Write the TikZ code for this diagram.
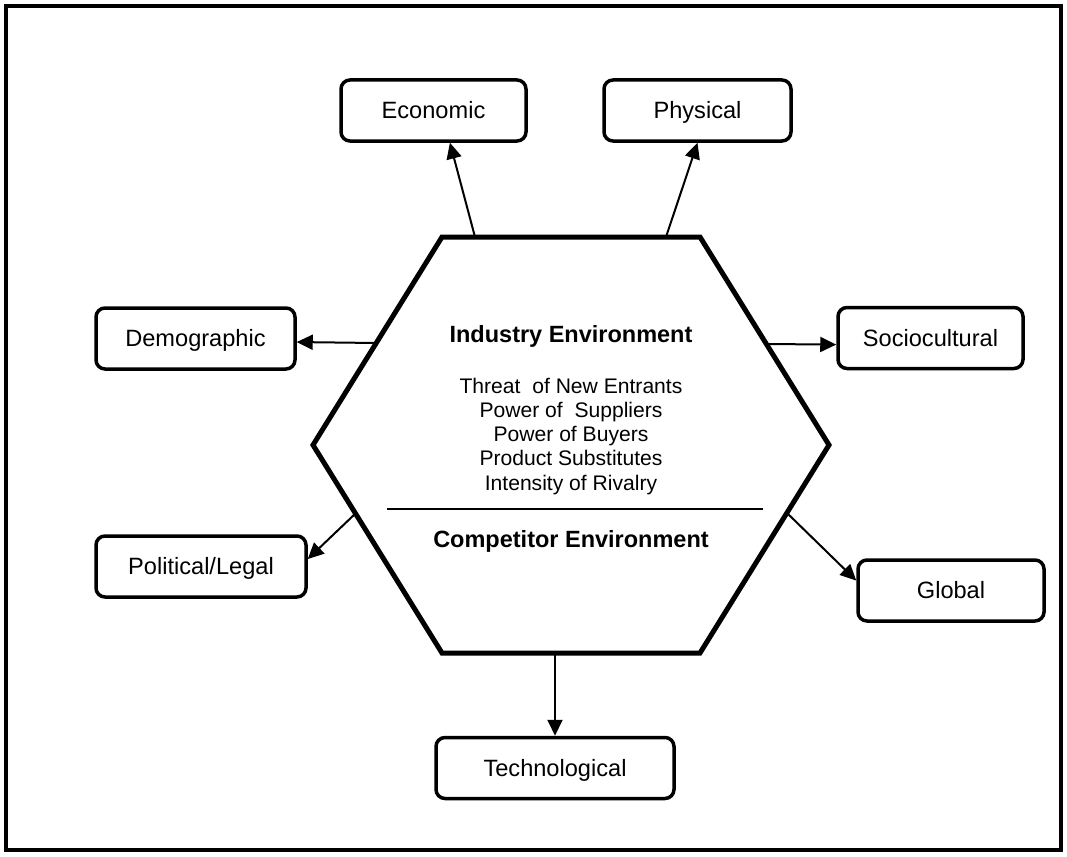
\documentclass[tikz,border=0pt]{standalone}
\usepackage{fontspec}
\setmainfont{Liberation Sans}
\usetikzlibrary{arrows.meta}
\begin{document}
\begin{tikzpicture}[x=1pt,y=-1pt,
  box/.style={draw,line width=3.5pt,rounded corners=9pt,minimum height=61pt,inner sep=0pt,
    font=\fontsize{23.6}{28}\selectfont,text height=16.9pt,text depth=0pt},
  conn/.style={line width=2pt,-{Triangle[length=16pt,width=15pt]}},
  hexline/.style={line width=5pt,line join=miter},
  title/.style={font=\fontsize{23.5}{28}\selectfont\bfseries,anchor=base},
  item/.style={font=\fontsize{21.1}{24}\selectfont,anchor=base},
  ]
\useasboundingbox (0,0) rectangle (1067,856);
\draw[line width=4pt] (6,6) rectangle (1061,850);

% boxes
\node[box,minimum width=185pt] (econ) at (433.5,110.5) {Economic};
\node[box,minimum width=187pt] (phys) at (697.5,110.5) {Physical};
\node[box,minimum width=199pt] (demo) at (195.5,338.5) {Demographic};
\node[box,minimum width=185pt] (soci) at (930.5,338) {Sociocultural};
\node[box,minimum width=210pt] (poli) at (201,566.5) {Political/Legal};
\node[box,minimum width=186pt] (glob) at (951,590.5) {Global};
\node[box,minimum width=238pt] (tech) at (555,768) {Technological};

% hexagon
\coordinate (h1) at (442,237);
\coordinate (h2) at (700,237);
\coordinate (h3) at (829,445);
\coordinate (h4) at (700,653);
\coordinate (h5) at (442,653);
\coordinate (h6) at (313,445);
\draw[hexline] (h1)--(h2)--(h3)--(h4)--(h5)--(h6)--cycle;

% arrow start points on the hexagon
\coordinate (aE) at (475,237);
\coordinate (aP) at (666,237);
\coordinate (aD) at (376,343);
\coordinate (aS) at (766,344);
\coordinate (aL) at (356,513);
\coordinate (aG) at (787,513);
\coordinate (aT) at (555,653);

\draw[conn] (aE) -- (econ.-63.4);
\draw[conn] (aP) -- (phys.south);
\draw[conn] (aD) -- (demo.-2.6);
\draw[conn] (aS) -- (soci.-176.3);
\draw[conn] (aL) -- (poli.4.6);
\draw[conn] (aG) -- (glob.174.8);
\draw[conn] (aT) -- (tech.north);

% texts inside
\node[title] (ind) at (571,342) {Industry Environment};
\node[item] (i1) at (571,393) {Threat\ \ of New Entrants};
\node[item] (i2) at (571,417.3) {Power of\ \ Suppliers};
\node[item] (i3) at (571,441.6) {Power of Buyers};
\node[item] (i4) at (571,465.9) {Product Substitutes};
\node[item] (i5) at (571,490.2) {Intensity of Rivalry};
\coordinate (r1) at (387,509);
\coordinate (r2) at (763,509);
\draw[line width=2pt] (r1) -- (r2);
\node[title] (comp) at (571,547) {Competitor Environment};
\end{tikzpicture}
\end{document}
